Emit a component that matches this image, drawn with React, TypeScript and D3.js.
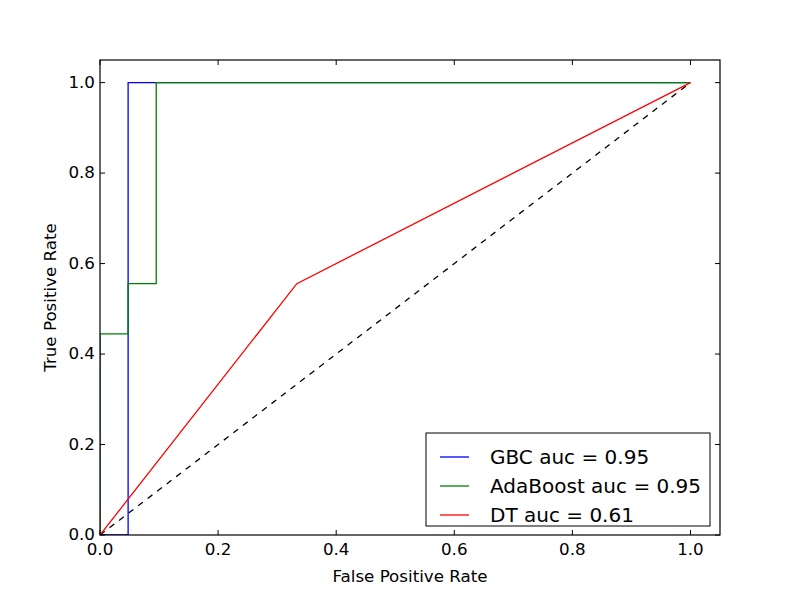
import * as d3 from 'd3';
import React from 'react';

const xTicks = [0, 0.2, 0.4, 0.6, 0.8, 1.0];
const yTicks = [0, 0.2, 0.4, 0.6, 0.8, 1.0];

const gbcFpr = [0, 1 / 21, 1 / 21, 1];
const gbcTpr = [0, 0, 1, 1];

const adaFpr = [0, 0, 1 / 21, 1 / 21, 2 / 21, 2 / 21, 1];
const adaTpr = [0, 4 / 9, 4 / 9, 5 / 9, 5 / 9, 1, 1];

const dtFpr = [0, 1 / 3, 1];
const dtTpr = [0, 5 / 9, 1];

const chanceFpr = [0, 1];
const chanceTpr = [0, 1];

const legendLabels = ['GBC auc = 0.95', 'AdaBoost auc = 0.95', 'DT auc = 0.61'];
const legendColors = ['#0000ff', '#008000', '#ff0000'];

const W = 800;
const H = 595;
const margin = { left: 100, right: 80, top: 60, bottom: 60 };
const font = 'DejaVu Sans, sans-serif';

const App = () => {
  const x = d3.scaleLinear().domain([0, 1.05]).range([margin.left, W - margin.right]);
  const y = d3.scaleLinear().domain([0, 1.05]).range([H - margin.bottom, margin.top]);

  const line = (xs: number[], ys: number[]) =>
    d3
      .line<number>()
      .x((d) => x(d))
      .y((_, i) => y(ys[i]))(xs) || '';

  const x0 = x(0);
  const x1 = x(1.05);
  const y0 = y(0);
  const y1 = y(1.05);
  const tickLen = 5;

  const lx = 426;
  const ly = 433;

  return (
    <svg width={W} height={H} style={{ display: 'block', position: 'absolute', left: 0, top: 0 }}>
      <rect width={W} height={H} fill="#ffffff" />
      <clipPath id="plot">
        <rect x={x0} y={y1} width={x1 - x0} height={y0 - y1} />
      </clipPath>
      <g clipPath="url(#plot)" fill="none" strokeWidth={1.3}>
        <path d={line(chanceFpr, chanceTpr)} stroke="#000" strokeDasharray="6,6" />
        <path d={line(gbcFpr, gbcTpr)} stroke={legendColors[0]} />
        <path d={line(adaFpr, adaTpr)} stroke={legendColors[1]} />
        <path d={line(dtFpr, dtTpr)} stroke={legendColors[2]} />
      </g>

      {xTicks.map((t) => (
        <g key={'x' + t}>
          <line x1={x(t)} x2={x(t)} y1={y0} y2={y0 - tickLen} stroke="#000" />
          <line x1={x(t)} x2={x(t)} y1={y1} y2={y1 + tickLen} stroke="#000" />
          <text x={x(t)} y={y0 + 20} textAnchor="middle" fontFamily={font} fontSize={16.7}>
            {t.toFixed(1)}
          </text>
        </g>
      ))}
      {yTicks.map((t) => (
        <g key={'y' + t}>
          <line x1={x0} x2={x0 + tickLen} y1={y(t)} y2={y(t)} stroke="#000" />
          <line x1={x1} x2={x1 - tickLen} y1={y(t)} y2={y(t)} stroke="#000" />
          <text x={x0 - 5} y={y(t) + 5} textAnchor="end" fontFamily={font} fontSize={16.7}>
            {t.toFixed(1)}
          </text>
        </g>
      ))}

      <rect x={x0} y={y1} width={x1 - x0} height={y0 - y1} fill="none" stroke="#000" strokeWidth={1.2} />

      <text x={(x0 + x1) / 2} y={582} textAnchor="middle" fontFamily={font} fontSize={16.7}>
        False Positive Rate
      </text>
      <text
        transform={`translate(56, ${(y0 + y1) / 2}) rotate(-90)`}
        textAnchor="middle"
        fontFamily={font}
        fontSize={16.7}
      >
        True Positive Rate
      </text>

      <rect x={lx} y={ly} width={284} height={93} fill="#fff" stroke="#000" strokeWidth={1} />
      {legendLabels.map((l, i) => (
        <g key={l}>
          <line
            x1={lx + 14}
            x2={lx + 43}
            y1={ly + 24 + i * 29}
            y2={ly + 24 + i * 29}
            stroke={legendColors[i]}
            strokeWidth={1.3}
          />
          <text x={lx + 64} y={ly + 31 + i * 29} fontFamily={font} fontSize={20}>
            {l}
          </text>
        </g>
      ))}
    </svg>
  );
};

export default App;
